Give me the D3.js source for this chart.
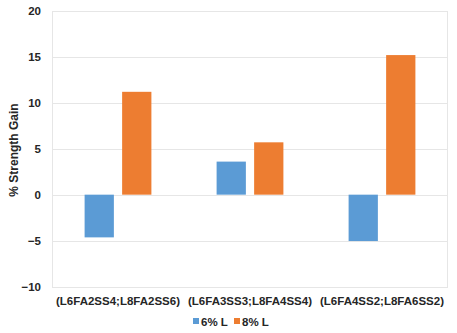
<!DOCTYPE html>
<html>
<head>
<meta charset="utf-8">
<script src="https://cdn.jsdelivr.net/npm/d3@7"></script>
<style>
  body { margin: 0; background: #fff; }
  svg { display: block; font-family: 'Liberation Sans', Arial, sans-serif; }
</style>
</head>
<body>
<svg width="457" height="333"></svg>
<script>
const categories = ['(L6FA2SS4;L8FA2SS6)', '(L6FA3SS3;L8FA4SS4)', '(L6FA4SS2;L8FA6SS2)']
const seriesNames = ['6% L', '8% L']
const values6 = [-4.65, 3.6, -5.05]
const values8 = [11.2, 5.7, 15.2]
const yTicks = [-10, -5, 0, 5, 10, 15, 20]
const colors = ['#5B9BD5', '#ED7D31']

const svg = d3.select('svg')
const textColor = '#262626'

const x = d3.scaleBand().domain(categories).range([52, 448])
const bw = x.bandwidth()
const xs = d3.scaleBand().domain(seriesNames)
  .range([bw * 0.247, bw * 0.753])
  .paddingInner(0.22)
const y = d3.scaleLinear().domain([-10, 20]).range([286.5, 11])

// gridlines
svg.append('g')
  .selectAll('line')
  .data(yTicks)
  .join('line')
  .attr('x1', 52).attr('x2', 448)
  .attr('y1', d => Math.round(y(d)) + 0.5)
  .attr('y2', d => Math.round(y(d)) + 0.5)
  .attr('stroke', '#e6e6e6')
  .attr('stroke-width', 1)

// plot border
svg.append('rect')
  .attr('x', 52.5).attr('y', Math.round(y(20)) + 0.5)
  .attr('width', 395).attr('height', Math.round(y(-10)) - Math.round(y(20)))
  .attr('fill', 'none')
  .attr('stroke', '#e6e6e6')

// y axis labels
const yAxis = d3.axisLeft(y).tickValues(yTicks).tickSize(0).tickPadding(11)
svg.append('g')
  .attr('transform', 'translate(52,0)')
  .call(yAxis)
  .call(g => g.select('.domain').remove())
  .call(g => g.selectAll('text')
    .attr('fill', textColor)
    .style('font-size', '11.5px')
    .style('font-weight', 'bold'))

// bars
const rows = categories.map((c, i) => [
  { cat: c, key: seriesNames[0], value: values6[i] },
  { cat: c, key: seriesNames[1], value: values8[i] },
])
svg.append('g')
  .selectAll('g')
  .data(rows)
  .join('g')
  .attr('transform', d => `translate(${x(d[0].cat)},0)`)
  .selectAll('rect')
  .data(d => d)
  .join('rect')
  .attr('x', d => xs(d.key))
  .attr('width', xs.bandwidth())
  .attr('y', d => y(Math.max(0, d.value)))
  .attr('height', d => Math.abs(y(d.value) - y(0)))
  .attr('fill', (d, i) => colors[i])

// x axis labels
const xAxis = d3.axisBottom(x).tickSize(0).tickPadding(10)
svg.append('g')
  .attr('transform', `translate(0,${y(-10)})`)
  .call(xAxis)
  .call(g => g.select('.domain').remove())
  .call(g => g.selectAll('text')
    .attr('fill', textColor)
    .style('font-size', '11.5px')
    .style('font-weight', 'bold'))

// y axis title
svg.append('text')
  .attr('transform', 'translate(18,150) rotate(-90)')
  .attr('text-anchor', 'middle')
  .attr('fill', textColor)
  .style('font-size', '12px')
  .style('font-weight', 'bold')
  .text('% Strength Gain')

// legend
const legendX = [193, 234]
const legend = svg.append('g')
  .selectAll('g')
  .data(seriesNames)
  .join('g')
  .attr('transform', (d, i) => `translate(${legendX[i]},322)`)
legend.append('rect')
  .attr('x', 0).attr('y', -4)
  .attr('width', 6).attr('height', 6)
  .attr('fill', (d, i) => colors[i])
legend.append('text')
  .attr('x', 8).attr('y', 4)
  .attr('fill', textColor)
  .style('font-size', '11.5px')
  .style('font-weight', 'bold')
  .text(d => d)
</script>
</body>
</html>
